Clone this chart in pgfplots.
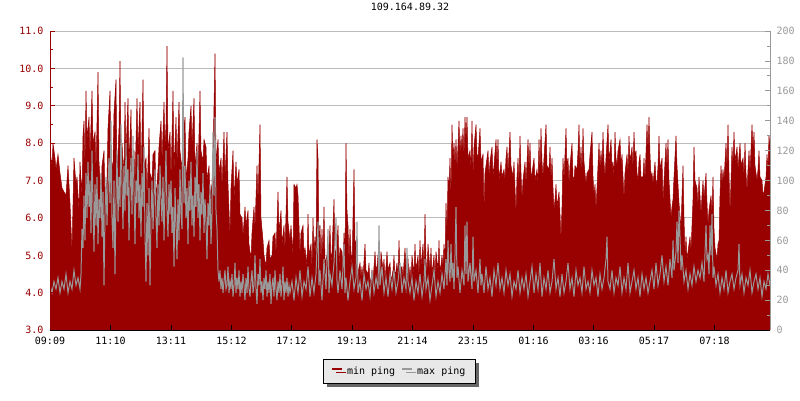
\documentclass[border=0pt]{standalone}
\usepackage{fontspec}
\setmainfont{DejaVu Sans Mono}
\usepackage{pgfplots}
\pgfplotsset{compat=1.18}
\usetikzlibrary{shadows}
\definecolor{pingred}{HTML}{990000}
\definecolor{pinggray}{HTML}{999999}
\definecolor{gridgray}{HTML}{BBBBBB}
\definecolor{legendbg}{HTML}{E8E8E8}

\pgfplotsset{
  layers/gridbelow/.define layer set={
    axis background,axis grid,main,axis ticks,axis lines,
    axis tick labels,axis descriptions,axis foreground
  }{/pgfplots/layers/standard},
}

\begin{document}
\begin{tikzpicture}
% left axis: min ping (area) and max ping (line)
\begin{axis}[
  set layers=gridbelow,
  at={(50pt,70pt)}, anchor=south west,
  scale only axis, width=720pt, height=299pt,
  xmin=0, xmax=720, ymin=3, ymax=11,
  enlargelimits=false,
  axis x line*=bottom, axis y line*=left,
  x axis line style={-, black, line width=1pt},
  y axis line style={-, pingred, line width=1pt},
  tick align=inside,
  major tick length=5pt, minor tick length=3pt,
  xtick={0,60.5,121,181.5,241.5,302,362.5,423,483.5,543.5,604,664.5},
  xticklabels={09:09,11:10,13:11,15:12,17:12,19:13,21:14,23:15,01:16,03:16,05:17,07:18},
  xticklabel style={yshift=-3.5pt},
  x tick style={black, line width=1pt},
  ytick={3,4,...,11}, minor y tick num=1,
  y tick style={pingred, line width=1pt},
  yticklabel style={pingred, xshift=-3pt, /pgf/number format/.cd, fixed, fixed zerofill, precision=1},
  /pgf/number format/assume math mode=true,
  ymajorgrids,
  major grid style={gridgray, line width=1pt},
  title={109.164.89.32},
  title style={at={(0.5,1)}, anchor=center, yshift=18pt},
  legend columns=2,
  legend style={at={(0.485,-0.137)}, anchor=center, fill=legendbg, draw=black, line width=1pt,
    inner xsep=8pt, inner ysep=5.5pt,
    general shadow={fill=black!60, shadow xshift=4pt, shadow yshift=-4pt},
    /tikz/every odd column/.append style={column sep=2pt},
    /tikz/every even column/.append style={column sep=4pt}},
  legend image code/.code={\draw[#1, line width=2pt] (0pt,2.5pt) -- (10pt,2.5pt);},
]
\addplot[pingred, fill=pingred, line width=0.5pt,
  legend image code/.code={\draw[pingred, line width=2pt] (0pt,2.5pt) -- (10pt,2.5pt);}]
coordinates {
(0,7.8)(2,7.4)(3,8.0)(5,7.6)(6,7.3)(8,7.7)(10,7.2)(12,6.8)(14,6.7)(16,6.6)(18,7.4)(20,6.4)(22,5.1)(24,7.6)(26,6.9)(27,7.1)(29,6.2)(30,7.5)(32,6.6)(33,8.2)(34,8.6)(35,7.3)(36,9.4)(37,8.1)(39,8.7)(40,7.6)(42,9.4)(43,8.0)(45,8.3)(46,7.2)(48,9.9)(49,7.5)(51,6.6)(52,7.4)(54,7.8)(55,6.5)(57,7.0)(58,8.4)(60,9.4)(61,7.2)(63,7.5)(64,8.8)(66,9.7)(67,7.0)(69,8.4)(70,10.2)(71,7.6)(72,8.0)(74,7.1)(75,9.1)(76,7.7)(78,9.2)(79,7.4)(81,8.9)(82,6.8)(84,7.8)(85,6.9)(87,9.2)(88,7.8)(90,9.1)(91,6.9)(93,9.7)(94,7.4)(96,7.6)(97,6.5)(99,8.4)(100,7.2)(102,7.0)(103,7.7)(105,7.8)(106,6.5)(108,7.3)(109,7.9)(111,8.6)(112,7.5)(114,9.1)(115,7.9)(116,8.5)(117,10.6)(118,7.8)(120,8.3)
(121,7.0)(123,9.4)(124,7.2)(126,8.7)(127,7.4)(129,9.1)(130,7.8)(132,7.3)(133,8.1)(135,8.7)(136,7.0)(138,7.6)(139,8.3)(141,9.0)(142,7.9)(144,9.2)(145,7.3)(147,8.0)(148,7.1)(150,9.4)(151,7.8)(153,7.5)(154,8.1)(156,7.9)(157,7.0)(159,7.4)(160,6.6)(162,6.9)(163,7.6)(165,10.4)(166,7.5)(168,8.1)(169,7.2)(171,7.6)(172,6.8)(174,8.3)(175,7.1)(177,8.3)(178,6.9)(180,5.5)(181,6.8)(183,7.8)(184,6.5)(186,7.5)(187,6.9)(189,7.3)(190,6.1)(192,6.0)(193,5.5)(195,6.3)(196,5.8)(198,6.2)(199,5.3)(201,4.9)(202,5.6)(204,6.3)(205,5.7)(207,7.4)(208,6.4)(210,8.5)(211,6.0)(213,5.4)(214,5.0)(216,4.7)(217,5.2)(219,5.4)(220,4.9)(222,5.0)(223,5.5)(225,5.6)(226,5.0)(228,6.7)(229,5.6)(231,6.2)(232,5.3)(234,5.8)(235,5.1)(237,7.1)(238,5.9)(240,5.4)
(241,5.8)(243,5.0)(244,6.9)(246,6.8)(247,6.9)(248,6.6)(250,5.0)(251,5.6)(253,5.8)(254,5.0)(255,5.2)(257,4.7)(258,6.1)(259,5.0)(261,5.3)(262,4.6)(263,6.0)(264,5.1)(265,5.5)(266,5.0)(267,8.1)(268,7.6)(269,5.2)(270,5.8)(271,4.8)(272,5.7)(273,5.0)(274,6.3)(275,4.8)(277,5.0)(278,4.6)(280,5.8)(281,4.8)(282,5.1)(284,6.5)(285,5.0)(287,5.3)(288,5.8)(289,4.7)(290,5.2)(292,5.1)(293,4.6)(294,5.6)(295,5.0)(296,8.0)(297,6.2)(298,5.8)(299,4.8)(300,5.7)(301,5.1)(302,4.7)(304,7.3)(305,5.4)(307,5.3)(308,4.5)(310,4.8)(311,4.4)(312,4.7)(313,4.4)(315,5.3)(316,4.6)(318,4.5)(319,4.8)(320,4.2)(322,4.6)(323,4.3)(325,5.1)(326,4.6)(327,4.7)(329,5.3)(330,4.3)(331,5.1)(333,4.6)(334,4.9)(335,4.3)(337,5.1)(338,4.6)(340,4.8)(341,4.3)(343,4.6)(344,5.0)(345,4.4)(347,4.8)(348,4.4)(349,5.4)(350,4.6)(352,4.7)(353,4.4)(355,5.2)(356,4.6)(358,4.9)(359,4.4)
(360,4.7)(361,4.3)(362,5.0)(364,4.5)(365,5.3)(366,4.6)(368,5.0)(369,4.4)(370,5.4)(371,4.7)(373,5.3)(374,4.6)(375,6.1)(376,4.9)(377,4.5)(378,5.3)(380,4.6)(381,5.2)(382,4.5)(384,5.0)(385,4.4)(386,5.1)(388,4.6)(389,5.4)(390,4.5)(392,5.0)(393,4.7)(394,5.3)(395,4.8)(396,6.4)(397,5.6)(398,7.1)(399,6.8)(400,7.6)(401,6.5)(402,8.5)(403,7.6)(404,8.0)(405,7.4)(406,8.1)(407,7.3)(409,8.6)(410,7.7)(411,8.2)(412,7.8)(413,8.4)(414,7.6)(415,8.7)(416,8.1)(417,8.7)(418,7.6)(420,7.8)(421,7.3)(422,8.6)(423,7.1)(424,7.9)(426,8.5)(427,7.7)(428,7.6)(430,8.4)(431,7.5)(433,7.7)(434,6.2)(435,7.2)(436,7.4)(438,7.8)(439,7.1)(440,7.5)(442,7.9)(443,7.1)(444,7.4)(446,8.1)(447,7.4)(448,8.1)(449,7.0)(451,7.5)(452,7.1)(454,7.3)(455,7.0)(456,7.6)(457,7.9)(458,7.2)(460,8.3)(461,7.4)(463,7.1)(464,7.5)(465,6.8)(466,6.1)(467,7.1)(468,7.6)(469,6.9)(470,8.2)(471,7.2)(472,6.5)(473,7.0)(475,7.5)(476,6.9)(478,8.1)(479,7.3)
(480,8.0)(481,7.1)(482,7.2)(484,7.6)(485,7.0)(487,7.3)(488,6.9)(489,8.1)(490,7.2)(491,8.4)(492,7.5)(493,7.1)(494,7.6)(496,8.5)(497,7.4)(499,7.3)(500,7.9)(501,7.0)(502,7.6)(503,6.8)(504,6.2)(505,6.5)(506,6.9)(507,6.3)(509,6.7)(510,6.1)(511,5.4)(512,6.3)(513,7.6)(514,7.0)(516,8.4)(517,7.3)(518,7.6)(519,6.9)(520,7.4)(522,8.0)(523,7.1)(524,7.0)(525,7.4)(527,7.3)(528,7.8)(529,8.5)(530,7.3)(531,7.9)(532,7.2)(533,8.4)(534,7.5)(536,6.9)(537,7.2)(539,7.3)(540,7.7)(542,8.3)(543,7.1)(544,6.6)(545,6.9)(546,6.2)(547,6.8)(549,8.0)(550,7.3)(551,7.8)(552,7.4)(553,8.3)(554,7.5)(555,7.1)(556,7.6)(558,8.5)(559,7.5)(561,8.1)(562,7.3)(563,7.5)(564,7.1)(565,8.3)(566,7.6)(567,7.4)(568,7.8)(570,8.1)(571,7.4)(572,7.7)(574,6.5)(575,7.2)(577,7.7)(578,7.2)(579,8.2)(580,7.5)(582,7.9)(583,7.3)(584,8.3)(585,7.6)(586,7.8)(587,7.2)(588,7.0)(589,7.5)(590,7.7)(591,7.1)(593,7.1)(594,7.6)(595,7.0)(597,8.5)(598,7.8)(599,8.7)
(600,7.7)(601,7.1)(602,7.2)(603,6.9)(605,7.5)(606,7.0)(607,6.9)(608,7.4)(609,8.2)(610,7.3)(612,7.6)(613,6.4)(614,7.0)(616,8.0)(617,7.3)(618,8.1)(619,7.0)(621,6.0)(622,6.3)(623,6.5)(624,7.1)(626,8.2)(627,7.4)(628,6.9)(629,6.4)(631,5.7)(632,6.6)(633,7.4)(634,6.0)(635,5.0)(636,5.5)(637,4.9)(639,5.3)(640,5.5)(641,5.1)(643,6.5)(644,7.9)(645,7.0)(647,6.8)(648,6.3)(649,7.1)(650,6.6)(651,6.1)(652,6.6)(653,7.0)(654,6.5)(656,7.2)(657,6.4)(658,5.8)(659,6.2)(661,6.6)(662,6.1)(663,7.1)(664,5.7)(665,5.2)(667,4.9)(668,5.3)(669,5.4)(670,6.6)(671,7.4)(672,6.9)(673,7.3)(674,7.0)(676,8.0)(677,7.3)(678,8.5)(679,7.2)(680,6.1)(681,7.0)(682,7.9)(683,7.4)(684,8.3)(685,7.5)(687,7.9)(688,7.3)(690,8.0)(691,7.4)(693,7.6)(694,7.1)(695,8.0)(696,7.2)(697,6.7)(698,7.3)(699,7.8)(700,7.2)(702,8.5)(703,7.8)(704,8.3)(705,7.4)(707,7.0)(708,7.3)(709,7.8)(710,7.1)(712,7.0)(713,6.6)(714,6.7)(716,7.1)(717,7.7)(718,7.3)(719,8.2)(720,7.9)
} \closedcycle;
\addlegendentry{min ping}
\addplot[pinggray, line width=1pt] coordinates {
(0,4.2)(2,4.0)(4,4.3)(6,4.1)(8,4.4)(10,4.0)(12,4.3)(14,4.1)(16,4.5)(18,4.0)(20,4.3)(22,4.1)(24,4.6)(26,4.2)(28,4.4)(30,4.1)(31,4.5)(32,5.7)(33,5.2)(34,6.6)(35,5.4)(36,7.2)(37,6.0)(38,7.5)(39,6.3)(40,7.0)(41,5.6)(42,7.8)(43,6.4)(44,5.1)(45,6.9)(46,5.8)(47,7.1)(48,5.3)(49,6.5)(50,6.0)(51,7.2)(52,5.5)(53,6.7)(54,4.2)(55,6.1)(56,7.1)(57,5.8)(58,6.9)(59,7.6)(60,6.4)(61,8.6)(62,6.0)(63,5.2)(64,7.0)(65,4.5)(66,6.5)(67,7.8)(68,5.9)(69,7.1)(70,6.3)(71,8.5)(72,6.9)(73,5.7)(74,7.4)(75,6.2)(76,8.0)(77,6.6)(78,7.3)(79,5.4)(80,6.8)(81,7.6)(82,6.1)(83,8.2)(84,6.7)(85,5.3)(86,7.0)(87,6.4)(88,7.7)(89,6.0)(90,6.9)(91,5.5)(92,7.2)(93,6.3)(94,7.9)(95,5.6)(96,4.3)(97,6.4)(98,5.0)(99,6.8)(100,4.2)(101,6.0)(102,7.0)(103,5.7)(104,6.6)(105,7.3)(106,6.0)(107,5.2)(108,6.9)(109,5.8)(110,7.4)(111,6.5)(112,5.9)(113,7.1)(114,5.4)(115,6.7)(116,7.8)(117,6.2)(118,5.5)(119,6.9)(120,6.1)
(121,7.0)(122,5.6)(123,6.3)(124,4.7)(125,6.8)(126,5.9)(127,4.9)(128,6.5)(129,5.4)(130,7.3)(131,6.1)(132,5.7)(133,10.3)(134,6.4)(135,7.4)(136,6.0)(137,6.8)(138,5.3)(139,7.0)(140,6.2)(141,7.5)(142,5.8)(143,6.6)(144,5.5)(145,7.1)(146,6.3)(147,7.8)(148,6.0)(149,6.9)(150,5.4)(151,6.7)(152,6.1)(153,7.2)(154,5.6)(155,6.5)(156,5.9)(157,4.9)(158,6.4)(159,5.8)(160,6.9)(161,5.3)(162,6.1)(163,8.3)(164,6.6)(165,8.7)(166,6.2)(167,5.7)(168,4.6)(169,4.3)(170,4.6)
(171,4.1)(172,4.4)(173,4.0)(174,4.3)(175,4.6)(176,4.1)(177,4.2)(178,4.7)(179,4.0)(180,4.3)(181,4.1)(182,4.5)(183,3.9)(184,4.2)(185,4.8)(186,4.0)(187,4.4)(188,4.1)(189,4.6)(190,3.9)(191,4.3)(192,4.0)(193,4.5)(194,4.2)(195,3.8)(196,4.4)(197,4.0)(198,4.7)(199,4.1)(200,3.9)(201,4.3)(202,4.6)(203,4.0)(204,4.2)(205,5.0)(206,4.1)(207,3.7)(208,4.5)(209,4.2)(210,4.9)(211,4.0)(212,4.3)(213,3.8)(214,4.4)(215,4.1)(216,4.6)(217,3.9)(218,4.3)(219,4.0)(220,4.5)(221,3.7)(222,4.2)(223,4.4)(224,3.9)(225,4.6)(226,4.1)(227,3.8)(228,4.3)(229,4.0)(230,4.5)(231,3.9)(232,4.2)(233,4.7)(234,3.8)(235,4.3)(236,4.0)(237,4.4)(238,3.9)(239,4.2)(240,4.0)
(242,4.3)(244,3.8)(246,4.4)(248,4.0)(250,4.6)(252,3.9)(254,4.3)(256,4.1)(258,4.7)(260,3.9)(262,4.4)(264,4.0)(266,4.5)(268,5.9)(269,4.2)(270,4.6)(272,3.8)(274,4.9)(276,4.1)(278,5.7)(279,4.0)(280,4.5)(282,4.2)(284,4.8)(286,6.0)(287,4.3)(288,4.0)(290,4.6)(292,4.1)(294,5.3)(295,4.0)(296,4.4)(298,3.8)(300,4.3)(302,4.7)(304,4.1)(306,4.4)(307,5.9)(308,4.0)(310,4.3)(312,3.8)(314,4.5)(316,4.1)(318,4.3)(320,3.9)(322,4.6)(324,4.0)(326,4.4)(328,4.1)(329,5.8)(330,4.2)(332,4.7)(334,4.0)(336,4.4)(338,3.9)(340,4.5)(342,4.1)(344,4.6)(346,4.0)(348,4.3)(350,4.8)(352,4.0)(354,4.4)(356,4.1)(357,5.2)(358,4.3)(360,4.0)
(362,4.4)(364,3.8)(366,4.3)(368,4.0)(370,4.5)(372,3.9)(374,4.3)(375,4.9)(376,4.1)(378,4.4)(380,3.8)(382,4.2)(384,4.6)(386,3.9)(388,4.3)(390,4.0)(392,4.5)(394,4.1)(396,4.9)(397,4.2)(398,5.4)(399,4.6)(400,4.3)(401,5.3)(402,4.4)(403,4.8)(404,4.1)(405,5.0)(406,6.3)(407,4.4)(408,4.7)(410,4.0)(412,4.6)(414,4.2)(415,5.8)(416,4.5)(417,5.9)(418,4.3)(420,4.8)(422,4.1)(423,5.5)(424,4.3)(426,4.6)(428,4.0)(430,4.9)(431,4.2)(432,4.5)(434,4.0)(436,4.7)(438,4.1)(440,4.4)(442,3.9)(444,4.6)(446,4.2)(448,4.8)(450,4.1)(452,4.4)(454,4.0)(456,4.6)(458,4.2)(460,4.5)(462,3.9)(464,4.3)(466,4.1)(468,4.6)(470,4.0)(472,4.4)(474,4.1)(476,4.5)(478,3.9)(480,4.3)
(482,4.7)(484,4.0)(486,4.5)(488,4.1)(490,4.8)(492,3.9)(494,4.4)(496,4.1)(498,4.6)(500,4.0)(502,4.3)(504,4.9)(506,4.1)(508,4.4)(510,3.9)(512,4.5)(514,4.0)(516,4.3)(518,4.8)(520,4.1)(522,4.4)(524,3.9)(526,4.6)(528,4.2)(530,4.4)(532,4.0)(534,4.7)(536,4.1)(538,4.3)(540,4.0)(542,4.6)(544,4.2)(546,4.4)(548,3.9)(550,4.5)(552,4.1)(554,4.4)(556,4.9)(557,5.5)(558,4.3)(560,4.1)(562,4.6)(564,4.0)(566,4.4)(568,4.2)(570,4.7)(572,4.0)(574,4.4)(576,4.1)(578,4.8)(580,4.0)(582,4.3)(584,4.6)(586,4.1)(588,4.4)(590,3.9)(592,4.5)(594,4.1)(596,4.4)(598,4.0)(600,4.3)
(602,4.6)(604,4.1)(606,4.8)(608,4.2)(610,4.5)(612,5.0)(614,4.3)(616,4.7)(618,4.2)(620,4.9)(622,4.4)(623,5.4)(624,4.6)(626,5.1)(627,5.9)(628,4.8)(629,6.2)(630,5.5)(631,4.6)(632,5.0)(634,4.3)(636,4.6)(638,4.1)(640,4.5)(642,4.2)(644,4.7)(646,4.3)(648,4.6)(650,4.4)(652,4.8)(654,4.3)(656,5.8)(657,4.9)(658,5.0)(659,4.5)(660,5.8)(661,5.0)(662,6.1)(663,4.4)(664,4.7)(666,4.2)(668,4.5)(670,4.0)(672,4.4)(674,4.1)(676,4.6)(678,4.0)(680,4.3)(682,4.5)(684,4.1)(686,4.4)(688,4.6)(689,5.3)(690,4.2)(692,4.5)(694,4.0)(696,4.4)(698,4.2)(700,4.6)(702,4.0)(704,4.3)(706,4.5)(708,4.1)(710,4.4)(712,3.9)(714,4.3)(716,4.1)(718,4.5)(720,4.2)
};
\addlegendentry{max ping}
\end{axis}
% right-hand scale
\begin{axis}[
  at={(50pt,70pt)}, anchor=south west,
  scale only axis, width=720pt, height=299pt,
  xmin=0, xmax=720, ymin=0, ymax=200,
  axis x line=none, axis y line*=right,
  y axis line style={-, pinggray, line width=1pt},
  tick align=inside,
  major tick length=5pt, minor tick length=3pt,
  ytick={0,20,...,200}, minor y tick num=1,
  y tick style={pinggray, line width=1pt},
  yticklabel style={pinggray, xshift=3pt},
  /pgf/number format/assume math mode=true,
]
\addplot[draw=none] coordinates {(0,0)(720,200)};
\end{axis}
\path (0pt,0pt) rectangle (800pt,400pt);
\end{tikzpicture}
\end{document}
